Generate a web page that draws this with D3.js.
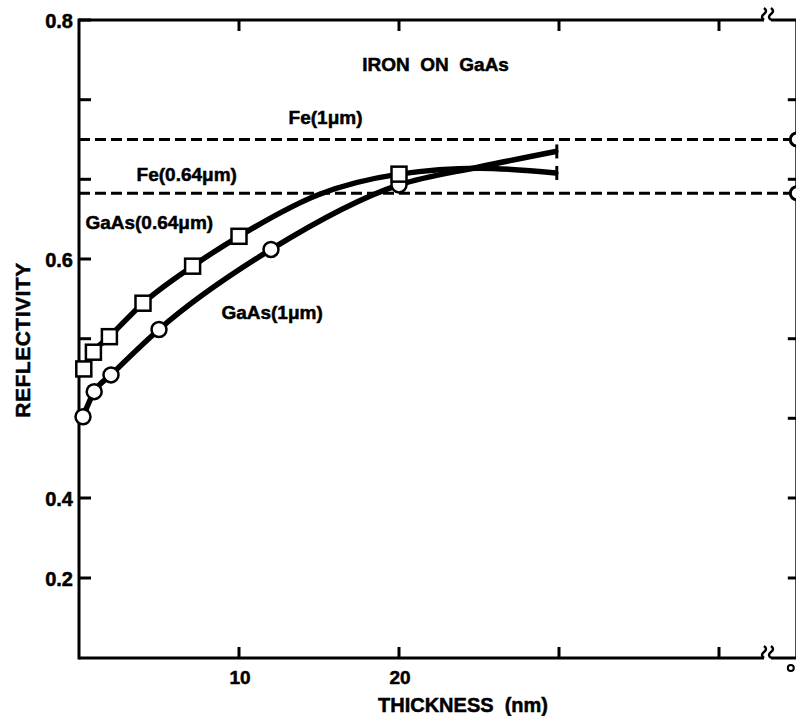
<!DOCTYPE html>
<html>
<head>
<meta charset="utf-8">
<script src="https://d3js.org/d3.v7.min.js"></script>
<style>
  body { margin: 0; background: #fff; }
  text { font-family: "Liberation Sans", Arial, sans-serif; font-weight: bold; fill: #000; stroke: #000; stroke-width: 0.5px; }
</style>
</head>
<body>
<div id="my_dataviz"></div>
<script>
// data
var sqThickness = [0.3, 0.9, 1.9, 4, 7.1, 10, 20]       // squares, GaAs(0.64um)
var sqRefl = [0.508, 0.522, 0.535, 0.563, 0.594, 0.619, 0.671]
var sqCurveThickness = [0.3, 0.9, 1.9, 4, 7.1, 10, 15, 20, 25, 29.8]
var sqCurveRefl = [0.508, 0.522, 0.535, 0.563, 0.594, 0.619, 0.654, 0.671, 0.676, 0.672]

var ciThickness = [0.25, 0.95, 2, 5, 12, 20]             // circles, GaAs(1um)
var ciRefl = [0.468, 0.489, 0.503, 0.541, 0.608, 0.662]
var ciCurveThickness = [0.25, 0.95, 2, 5, 12, 20, 25, 29.8]
var ciCurveRefl = [0.468, 0.489, 0.503, 0.541, 0.608, 0.662, 0.677, 0.690]

var bulkNames = ["Fe(1\u03bcm)", "Fe(0.64\u03bcm)"]
var bulkRefl = [0.700, 0.655]
var bulkThickness = 44.8   // the "infinite" thickness position past the break

var xTicks = [10, 20, 30, 40]
var xTickLabels = ["10", "20", "", ""]
var yTicks = [0.2, 0.4, 0.4667, 0.5333, 0.6, 0.6667, 0.7333, 0.8]
var yTickLabels = ["0.2", "0.4", "", "", "0.6", "", "", "0.8"]
var yRightTicks = [0.2, 0.4, 0.4667, 0.5333, 0.6667, 0.7333]

var width = 796
var height = 716

var svg = d3.select("#my_dataviz")
    .append("svg")
    .attr("width", width)
    .attr("height", height)

// scales: x linear, y broken below 0.4
var x = d3.scaleLinear().domain([0, 40]).range([79, 719])
var y = d3.scaleLinear().domain([0, 0.4, 0.8]).range([658, 498, 20])

var x0 = x(0), xEnd = x(bulkThickness) + 1, xBreak = x(43)
var yTop = y(0.8), yBot = y(0)

// frame lines
var axisStyle = function(sel) { return sel.style("stroke", "#000").style("stroke-width", 3).style("fill", "none") }

svg.append("line").attr("x1", x0).attr("y1", yTop - 1.5).attr("x2", x0).attr("y2", yBot + 1.5).call(axisStyle)
svg.append("line").attr("x1", x0).attr("y1", yBot).attr("x2", xBreak - 3).attr("y2", yBot).call(axisStyle)
svg.append("line").attr("x1", xBreak + 4).attr("y1", yBot).attr("x2", xEnd).attr("y2", yBot).call(axisStyle)
svg.append("line").attr("x1", x0).attr("y1", yTop).attr("x2", xBreak - 3).attr("y2", yTop).call(axisStyle)
svg.append("line").attr("x1", xBreak + 4).attr("y1", yTop).attr("x2", xEnd).attr("y2", yTop).call(axisStyle)
svg.append("line").attr("x1", xEnd).attr("y1", yTop).attr("x2", xEnd).attr("y2", yBot).call(axisStyle)

// break marks on top and bottom axes
var breakPath = function(cx, cy) {
    return "M" + (cx - 3) + "," + (cy - 6) + " q4,3 0,6 q-4,3 0,6" +
        " M" + (cx + 4) + "," + (cy - 6) + " q4,3 0,6 q-4,3 0,6"
}
svg.append("path").attr("d", breakPath(xBreak, yTop - 6)).style("stroke", "#000").style("stroke-width", 2.5).style("fill", "none")
svg.append("path").attr("d", breakPath(xBreak, yBot - 6)).style("stroke", "#000").style("stroke-width", 2.5).style("fill", "none")

// x ticks (bottom up, top down)
svg.selectAll(".xtickb").data(xTicks).enter().append("line")
    .attr("x1", function(d) { return x(d) }).attr("x2", function(d) { return x(d) })
    .attr("y1", yBot).attr("y2", yBot - 11).call(axisStyle)
svg.selectAll(".xtickt").data(xTicks).enter().append("line")
    .attr("x1", function(d) { return x(d) }).attr("x2", function(d) { return x(d) })
    .attr("y1", yTop).attr("y2", yTop + 11).call(axisStyle)
svg.selectAll(".xlab").data(xTicks).enter().append("text")
    .attr("x", function(d) { return x(d) + 1 })
    .attr("y", yBot + 26)
    .attr("text-anchor", "middle")
    .style("font-size", "19px")
    .text(function(d, i) { return xTickLabels[i] })

// infinity mark under the bulk position
svg.append("circle").attr("cx", x(bulkThickness) - 5).attr("cy", yBot + 10).attr("r", 3)
    .style("fill", "none").style("stroke", "#000").style("stroke-width", 2)

// y ticks left and right
svg.selectAll(".ytick").data(yTicks).enter().append("line")
    .attr("x1", x0).attr("x2", x0 + 12)
    .attr("y1", function(d) { return y(d) }).attr("y2", function(d) { return y(d) })
    .call(axisStyle)
svg.selectAll(".ytickr").data(yRightTicks).enter().append("line")
    .attr("x1", xEnd).attr("x2", xEnd - 9)
    .attr("y1", function(d) { return y(d) }).attr("y2", function(d) { return y(d) })
    .call(axisStyle)
svg.selectAll(".ylab").data(yTicks).enter().append("text")
    .attr("x", x0 - 6)
    .attr("y", function(d) { return y(d) + 8 })
    .attr("text-anchor", "end")
    .style("font-size", "20px")
    .text(function(d, i) { return yTickLabels[i] })

// axis titles
svg.append("text")
    .attr("transform", "translate(30," + 340 + ") rotate(-90)")
    .attr("text-anchor", "middle")
    .style("font-size", "21px")
    .style("letter-spacing", "0.5px")
    .text("REFLECTIVITY")
svg.append("text")
    .attr("x", 463).attr("y", 712)
    .attr("text-anchor", "middle")
    .style("font-size", "20px")
    .style("white-space", "pre")
    .text("THICKNESS  (nm)")

// bulk (dashed) levels, ending in a circle at infinite thickness
svg.selectAll(".bulk").data(bulkRefl).enter().append("line")
    .attr("x1", x0).attr("x2", x(bulkThickness) - 6)
    .attr("y1", function(d) { return y(d) }).attr("y2", function(d) { return y(d) })
    .style("stroke", "#000").style("stroke-width", 3).style("stroke-dasharray", "11,5")
svg.selectAll(".bulkpt").data(bulkRefl).enter().append("circle")
    .attr("cx", x(bulkThickness) + 1).attr("cy", function(d) { return y(d) }).attr("r", 6.5)
    .style("fill", "#fff").style("stroke", "#000").style("stroke-width", 3)

// curves
var line = d3.line()
    .x(function(d) { return x(d[0]) })
    .y(function(d) { return y(d[1]) })
    .curve(d3.curveMonotoneX)

var sqCurve = d3.zip(sqCurveThickness, sqCurveRefl)
var ciCurve = d3.zip(ciCurveThickness, ciCurveRefl)

;[ciCurve, sqCurve].forEach(function(c) {
    svg.append("path").attr("d", line(c))
        .style("fill", "none").style("stroke", "#000").style("stroke-width", 5.5)
        .style("stroke-linecap", "round")
    var last = c[c.length - 1]
    svg.append("line")
        .attr("x1", x(last[0]) + 1).attr("x2", x(last[0]) + 1)
        .attr("y1", y(last[1]) - 7).attr("y2", y(last[1]) + 7)
        .style("stroke", "#000").style("stroke-width", 3)
})

// markers
svg.selectAll(".ci").data(d3.zip(ciThickness, ciRefl)).enter().append("circle")
    .attr("cx", function(d) { return x(d[0]) })
    .attr("cy", function(d) { return y(d[1]) })
    .attr("r", 7.5)
    .style("fill", "#fff").style("stroke", "#000").style("stroke-width", 2.5)
svg.selectAll(".sq").data(d3.zip(sqThickness, sqRefl)).enter().append("rect")
    .attr("x", function(d) { return x(d[0]) - 7.5 })
    .attr("y", function(d) { return y(d[1]) - 7.5 })
    .attr("width", 15).attr("height", 15)
    .style("fill", "#fff").style("stroke", "#000").style("stroke-width", 2.5)

// annotations
svg.append("text").attr("x", x(17.7)).attr("y", y(0.757))
    .style("font-size", "19px").style("white-space", "pre").text("IRON  ON  GaAs")
svg.append("text").attr("x", x(13.1)).attr("y", y(0.713))
    .style("font-size", "19px").text(bulkNames[0])
svg.append("text").attr("x", x(3.6)).attr("y", y(0.665))
    .style("font-size", "19px").text(bulkNames[1])
svg.append("text").attr("x", x(0.4)).attr("y", y(0.625))
    .style("font-size", "19px").text("GaAs(0.64\u03bcm)")
svg.append("text").attr("x", x(8.9)).attr("y", y(0.550))
    .style("font-size", "19px").text("GaAs(1\u03bcm)")
</script>
</body>
</html>
